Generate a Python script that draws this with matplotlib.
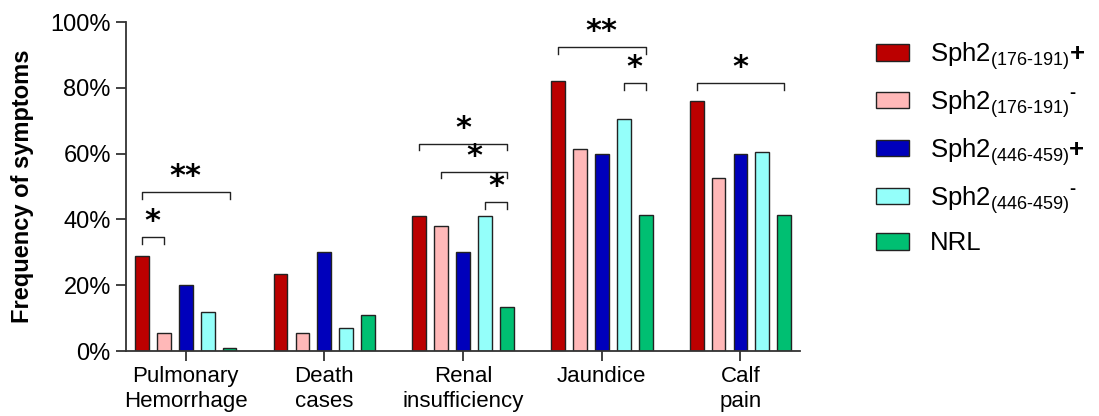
import matplotlib
matplotlib.use("Agg")
import matplotlib.pyplot as plt
import numpy as np

plt.rcParams['font.family'] = ['Liberation Sans', 'DejaVu Sans']
plt.rcParams['mathtext.fontset'] = 'custom'
plt.rcParams['mathtext.rm'] = 'Liberation Sans'
plt.rcParams['mathtext.bf'] = 'Liberation Sans:bold'

categories = ['Pulmonary\nHemorrhage', 'Death\ncases', 'Renal\ninsufficiency', 'Jaundice', 'Calf\npain']
series = [r'Sph2$_{(176‐191)}{\mathbf{+}}$', r'Sph2$_{(176‐191)}{}^{\mathbf{‐}}$',
          r'Sph2$_{(446‐459)}{\mathbf{+}}$', r'Sph2$_{(446‐459)}{}^{\mathbf{‐}}$', 'NRL']
colors = ['#BB0000', '#FFB8B8', '#0000BB', '#94FFFA', '#00BF72']

sph176_pos = [29, 23.5, 41, 82, 76]
sph176_neg = [5.5, 5.5, 38, 61.5, 52.5]
sph446_pos = [20, 30, 30, 60, 60]
sph446_neg = [12, 7, 41, 70.5, 60.5]
nrl = [1, 11, 13.5, 41.5, 41.5]
values = [sph176_pos, sph176_neg, sph446_pos, sph446_neg, nrl]

# significance brackets: (category, series a, series b, height %, label)
brackets = [
    (0, 0, 1, 34.7, '*'),
    (0, 0, 4, 48.3, '**'),
    (2, 0, 4, 63.0, '*'),
    (2, 1, 4, 54.5, '*'),
    (2, 3, 4, 45.3, '*'),
    (3, 0, 4, 92.4, '**'),
    (3, 3, 4, 81.5, '*'),
    (4, 0, 4, 81.5, '*'),
]

fig = plt.figure(figsize=(10.99, 4.16), dpi=100)
ax = fig.add_axes([0.1147, 0.156, 0.6133, 0.791])

x = np.arange(len(categories))
step = 0.158
width = 0.1
for i, (vals, lab, col) in enumerate(zip(values, series, colors)):
    ax.bar(x + (i - 2) * step, vals, width, color=col, edgecolor='#222222',
           linewidth=1.0, label=lab)

for cat, a, b, h, lab in brackets:
    xa = cat + (a - 2) * step
    xb = cat + (b - 2) * step
    ax.plot([xa, xa, xb, xb], [h - 2, h, h, h - 2], color='#222222', lw=1.0)
    ax.text((xa + xb) / 2, h + 0.3, lab, ha='center', va='bottom',
            fontsize=22, fontweight='bold', family='DejaVu Sans')

ax.set_xlim(-0.43, 4.43)
ax.set_ylim(0, 100)
ax.set_yticks([0, 20, 40, 60, 80, 100])
ax.set_yticklabels(['0%', '20%', '40%', '60%', '80%', '100%'])
ax.set_xticks(x)
ax.set_xticklabels(categories)
ax.tick_params(axis='both', labelsize=16, length=7, width=1.3, color='#333333')
ax.tick_params(axis='y', labelsize=17, pad=4)
ax.tick_params(axis='x', pad=4)
for s in ['top', 'right']:
    ax.spines[s].set_visible(False)
for s in ['left', 'bottom']:
    ax.spines[s].set_linewidth(1.3)
    ax.spines[s].set_color('#333333')
ax.set_ylabel('Frequency of symptoms', fontsize=17, fontweight='bold', labelpad=12)

ax.legend(loc='upper left', bbox_to_anchor=(0.776, 0.96), bbox_transform=fig.transFigure,
          frameon=False, fontsize=18.5, handlelength=1.3, handleheight=0.62,
          labelspacing=0.62, handletextpad=0.8)

fig.savefig('out.png', dpi=100)
